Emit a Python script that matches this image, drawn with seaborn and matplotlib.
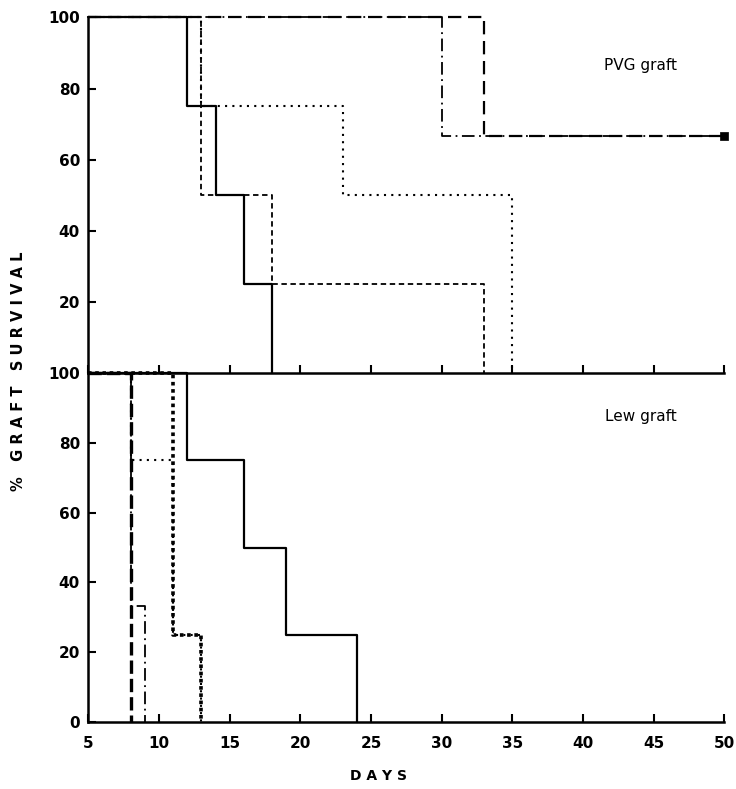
"""Graft survival step curves, PVG and Lew grafts."""

import matplotlib
matplotlib.use("Agg")
import matplotlib.pyplot as plt
import pandas as pd
import seaborn as sns

# ---- data ----
# PVG graft panel
pvg_solid_days = [5, 12, 14, 16, 18]
pvg_solid_surv = [100, 75, 50, 25, 0]
pvg_dashed_days = [5, 13, 18, 33]
pvg_dashed_surv = [100, 50, 25, 0]
pvg_dotted_days = [5, 13, 23, 35]
pvg_dotted_surv = [100, 75, 50, 0]
pvg_dashdot_days = [5, 30, 50]
pvg_dashdot_surv = [100, 66.7, 66.7]
pvg_longdash_days = [5, 33, 50]
pvg_longdash_surv = [100, 66.7, 66.7]
pvg_end_day = [50]
pvg_end_surv = [66.7]

# Lew graft panel
lew_solid_days = [5, 12, 16, 19, 24]
lew_solid_surv = [100, 75, 50, 25, 0]
lew_dashed_days = [5, 8]
lew_dashed_surv = [100, 0]
lew_dashdot_days = [5, 8, 9]
lew_dashdot_surv = [100, 33.3, 0]
lew_dotted_days = [5, 8, 11, 13]
lew_dotted_surv = [100, 75, 25, 0]
lew_heavydot_days = [5, 11, 13]
lew_heavydot_surv = [100, 25, 0]

x_ticks = [5, 10, 15, 20, 25, 30, 35, 40, 45, 50]
top_y_ticks = [20, 40, 60, 80, 100]
bottom_y_ticks = [0, 20, 40, 60, 80, 100]

sns.set_theme(style="ticks")
plt.rcParams["font.family"] = ["DejaVu Sans"]
plt.rcParams["text.color"] = "black"
plt.rcParams["axes.labelcolor"] = "black"

STYLES = {
    "solid": dict(linestyle="-", linewidth=1.6),
    "dashed": dict(linestyle=(0, (3, 2)), linewidth=1.3),
    "dotted": dict(linestyle=(0, (1, 2.5)), linewidth=1.5),
    "dashdot": dict(linestyle=(0, (7, 2.5, 1, 2.5)), linewidth=1.3),
    "longdash": dict(linestyle=(0, (6, 3)), linewidth=1.6),
    "heavydash": dict(linestyle=(0, (4, 1.5)), linewidth=2.4),
    "heavydot": dict(linestyle=(0, (1, 1)), linewidth=2.6),
}


def step_curve(ax, days, surv, style):
    df = pd.DataFrame({"day": days, "surv": surv})
    sns.lineplot(data=df, x="day", y="surv", ax=ax, estimator=None,
                 drawstyle="steps-post", color="black", clip_on=False,
                 **STYLES[style])


fig = plt.figure(figsize=(7.36, 7.89), dpi=100)
ax_top = fig.add_axes([0.12, 0.527, 0.864, 0.451])
ax_bot = fig.add_axes([0.12, 0.085, 0.864, 0.442], sharex=ax_top)

step_curve(ax_top, pvg_solid_days, pvg_solid_surv, "solid")
step_curve(ax_top, pvg_dashed_days, pvg_dashed_surv, "dashed")
step_curve(ax_top, pvg_dotted_days, pvg_dotted_surv, "dotted")
step_curve(ax_top, pvg_dashdot_days, pvg_dashdot_surv, "dashdot")
step_curve(ax_top, pvg_longdash_days, pvg_longdash_surv, "longdash")
sns.scatterplot(x=pvg_end_day, y=pvg_end_surv, ax=ax_top, color="black",
                marker="s", s=40, edgecolor="black", clip_on=False, zorder=5)

step_curve(ax_bot, lew_solid_days, lew_solid_surv, "solid")
step_curve(ax_bot, lew_dashed_days, lew_dashed_surv, "heavydash")
step_curve(ax_bot, lew_dashdot_days, lew_dashdot_surv, "dashdot")
step_curve(ax_bot, lew_dotted_days, lew_dotted_surv, "dotted")
step_curve(ax_bot, lew_heavydot_days, lew_heavydot_surv, "heavydot")

for ax, yt in ((ax_top, top_y_ticks), (ax_bot, bottom_y_ticks)):
    ax.set_xlim(5, 50)
    ax.set_ylim(0, 100)
    ax.set_yticks(yt)
    ax.set_xticks(x_ticks)
    ax.set_xlabel("")
    ax.set_ylabel("")
    sns.despine(ax=ax)
    for side in ("left", "bottom"):
        ax.spines[side].set_linewidth(1.8)
        ax.spines[side].set_color("black")
    ax.tick_params(direction="in", length=6, width=1.5, colors="black",
                   labelsize=11, pad=6)
    for lab in ax.get_xticklabels() + ax.get_yticklabels():
        lab.set_fontweight("bold")
    ax.patch.set_alpha(0)

ax_top.tick_params(axis="x", labelbottom=False)
ax_bot.tick_params(axis="x", pad=10)

ax_top.text(44.1, 86.5, "PVG graft", ha="center", va="center", fontsize=11)
ax_bot.text(44.1, 87.7, "Lew graft", ha="center", va="center", fontsize=11)

fig.text(0.514, 0.016, "D A Y S", ha="center", va="center",
         fontsize=10, fontweight="bold")
fig.text(0.025, 0.53, "%   G R A F T   S U R V I V A L", rotation=90,
         ha="center", va="center", fontsize=10.5, fontweight="bold")

plt.savefig("out.png", dpi=100)
plt.close()
